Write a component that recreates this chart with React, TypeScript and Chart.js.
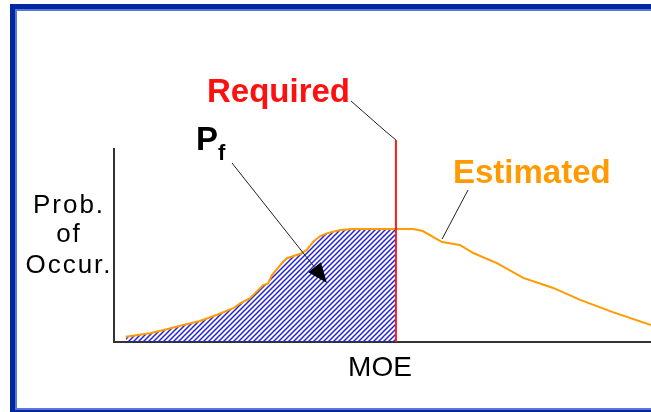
import React, { useEffect, useRef } from "react";
import { Chart, registerables } from "chart.js";

Chart.register(...registerables);

// MOE (x, 0..100) and probability of occurrence (y, 0..1) of the "Estimated" curve
const moeValues = [
  2.2, 6.7, 9.8, 12.9, 16.0, 19.1, 22.2, 23.5, 25.3, 27.8, 28.7, 29.4, 31.5, 32.2,
  34.6, 35.9, 37.1, 38.4, 39.6, 42.1, 44.5, 52.5, 55.7, 57.5, 61.1, 64.4, 66.9,
  71.3, 76.2, 81.8, 86.8, 92.9, 100,
];
const probValues = [
  0.027, 0.045, 0.066, 0.088, 0.109, 0.14, 0.175, 0.2, 0.226, 0.295, 0.304, 0.347,
  0.416, 0.434, 0.456, 0.477, 0.52, 0.549, 0.563, 0.58, 0.585, 0.585, 0.585, 0.575,
  0.518, 0.503, 0.461, 0.409, 0.332, 0.28, 0.218, 0.155, 0.088,
];
const requiredMoe = 52.5;
const estimatedLabelMoe = 61.1;

const labelRequired = "Required";
const labelEstimated = "Estimated";
const labelPf = "P";
const labelPfSub = "f";
const labelYLines = ["Prob.", "of", "Occur."];
const labelX = "MOE";

const FONT = "'Liberation Sans', Arial, Helvetica, sans-serif";

function makeHatch(): CanvasPattern | string {
  const c = document.createElement("canvas");
  c.width = 5;
  c.height = 5;
  const g = c.getContext("2d");
  if (!g) return "#3030d0";
  g.strokeStyle = "#2222dd";
  g.lineWidth = 1.5;
  g.beginPath();
  g.moveTo(-1, 6);
  g.lineTo(6, -1);
  g.moveTo(-1, 1);
  g.lineTo(1, -1);
  g.moveTo(4, 6);
  g.lineTo(6, 4);
  g.stroke();
  const p = g.createPattern(c, "repeat");
  return p || "#3030d0";
}

export default function App() {
  const ref = useRef<HTMLCanvasElement | null>(null);

  useEffect(() => {
    const canvas = ref.current;
    if (!canvas) return;

    const curve = moeValues.map((x, i) => ({ x, y: probValues[i] }));
    const filled = curve.filter((p) => p.x <= requiredMoe);

    const annotPlugin = {
      id: "annot",
      afterDatasetsDraw(chart: any) {
        const ctx = chart.ctx as CanvasRenderingContext2D;
        const xs = chart.scales.x;
        const ys = chart.scales.y;
        const area = chart.chartArea;
        ctx.save();

        // Required line
        const rx = xs.getPixelForValue(requiredMoe);
        const rTop = area.top - 9;
        ctx.strokeStyle = "#ff1a1a";
        ctx.lineWidth = 2;
        ctx.beginPath();
        ctx.moveTo(rx, ys.getPixelForValue(0));
        ctx.lineTo(rx, rTop);
        ctx.stroke();

        // leader lines
        ctx.strokeStyle = "#222";
        ctx.lineWidth = 1;
        ctx.beginPath();
        ctx.moveTo(351, 101);
        ctx.lineTo(384, 130);
        ctx.lineTo(rx, rTop);
        ctx.stroke();

        const ei = moeValues.indexOf(estimatedLabelMoe);
        const ex = xs.getPixelForValue(estimatedLabelMoe);
        const ey = ys.getPixelForValue(probValues[ei]);
        ctx.beginPath();
        ctx.moveTo(468, 190);
        ctx.lineTo(ex, ey - 3);
        ctx.stroke();

        // Pf arrow
        const ax0 = 232, ay0 = 163, ax1 = 327, ay1 = 283;
        const dx = ax1 - ax0, dy = ay1 - ay0;
        const len = Math.hypot(dx, dy);
        const ux = dx / len, uy = dy / len;
        const hl = 20, hw = 8;
        const bx = ax1 - ux * hl, by = ay1 - uy * hl;
        ctx.beginPath();
        ctx.moveTo(ax0, ay0);
        ctx.lineTo(bx, by);
        ctx.stroke();
        ctx.fillStyle = "#000";
        ctx.beginPath();
        ctx.moveTo(ax1, ay1);
        ctx.lineTo(bx - uy * hw, by + ux * hw);
        ctx.lineTo(bx + uy * hw, by - ux * hw);
        ctx.closePath();
        ctx.fill();

        // texts
        ctx.textBaseline = "alphabetic";
        ctx.textAlign = "left";
        ctx.font = `bold 33px ${FONT}`;
        ctx.fillStyle = "#ff1010";
        ctx.fillText(labelRequired, 207, 102);
        ctx.fillStyle = "#ff9a00";
        ctx.fillText(labelEstimated, 453, 183);
        ctx.fillStyle = "#000";
        ctx.fillText(labelPf, 196, 150);
        ctx.font = `bold 22px ${FONT}`;
        ctx.fillText(labelPfSub, 218, 160);

        ctx.textAlign = "center";
        ctx.font = `26px ${FONT}`;
        (ctx as any).letterSpacing = "2px";
        const base = [213, 242, 273];
        labelYLines.forEach((t, i) => ctx.fillText(t, 69, base[i]));
        (ctx as any).letterSpacing = "0px";
        ctx.font = `28px ${FONT}`;
        ctx.fillText(labelX, 380, 376);

        ctx.restore();
      },
    };

    const chart = new Chart(canvas, {
      type: "line",
      data: {
        datasets: [
          {
            data: curve,
            borderColor: "#ff9a00",
            borderWidth: 2,
            pointRadius: 0,
            fill: false,
            tension: 0,
            order: 0,
          },
          {
            data: filled,
            borderWidth: 0,
            borderColor: "rgba(0,0,0,0)",
            backgroundColor: makeHatch() as any,
            pointRadius: 0,
            fill: "origin",
            tension: 0,
            order: 1,
          },
        ],
      },
      options: {
        animation: false,
        responsive: false,
        devicePixelRatio: 1,
        layout: { padding: { left: 114, top: 149, right: 0, bottom: 70 } },
        scales: {
          x: {
            type: "linear",
            min: 0,
            max: 100,
            grid: { display: false, drawTicks: false },
            ticks: { display: false },
            border: { display: true, color: "#333", width: 2 },
          },
          y: {
            min: 0,
            max: 1,
            grid: { display: false, drawTicks: false },
            ticks: { display: false },
            border: { display: true, color: "#333", width: 2 },
          },
        },
        plugins: { legend: { display: false }, tooltip: { enabled: false } },
      },
      plugins: [annotPlugin],
    });

    return () => chart.destroy();
  }, []);

  return (
    <div
      style={{
        position: "fixed",
        left: 0,
        top: 0,
        width: 651,
        height: 412,
        overflow: "hidden",
        background: "#ffffff",
      }}
    >
      <div
        style={{
          position: "absolute",
          left: 10,
          top: 4,
          width: 700,
          height: 420,
          background: "#0028a0",
        }}
      />
      <div
        style={{
          position: "absolute",
          left: 15,
          top: 9,
          width: 700,
          height: 401,
          background: "#5a78d2",
        }}
      />
      <div
        style={{
          position: "absolute",
          left: 17,
          top: 11,
          width: 700,
          height: 397,
          background: "#ffffff",
        }}
      />
      <canvas
        ref={ref}
        width={651}
        height={412}
        style={{ display: "block", position: "absolute", left: 0, top: 0 }}
      />
    </div>
  );
}
